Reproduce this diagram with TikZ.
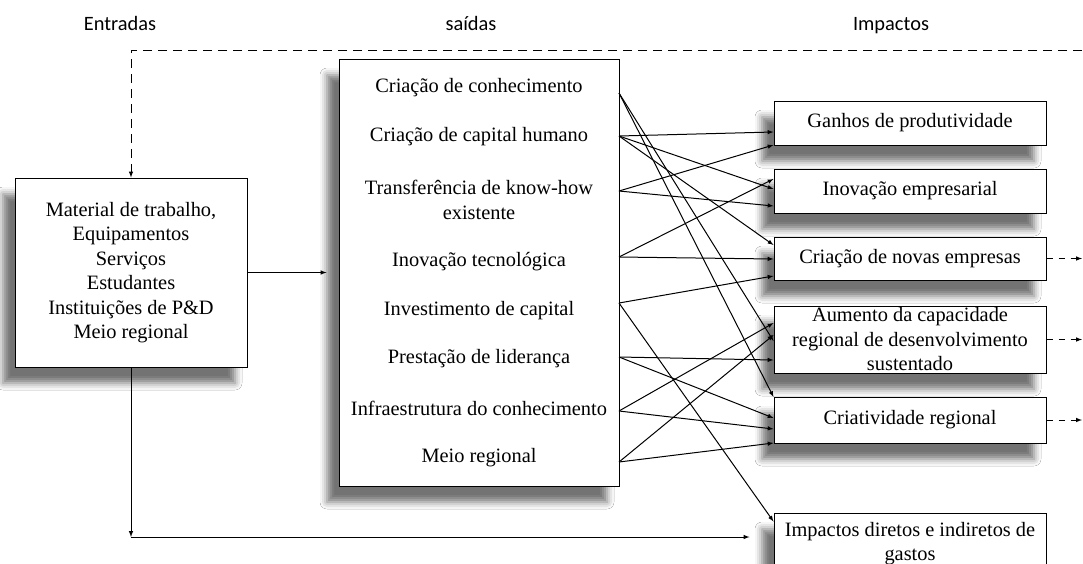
\documentclass[tikz,border=0pt]{standalone}
\usepackage{fontspec}
\setmainfont{Liberation Serif}
\newfontfamily\headfont{Carlito}
\usetikzlibrary{arrows}
\usetikzlibrary{positioning}
\usetikzlibrary{shadows.blur}

\begin{document}
\begin{tikzpicture}[-latex, x=1pt, y=-1pt, node distance=23pt, line width=1pt,
    box/.style={draw, fill=white, -, align=center, inner sep=0pt,
      font=\fontsize{20.4}{24.5}\selectfont,
      blur shadow={shadow xshift=-12pt, shadow yshift=-16pt,
      shadow blur radius=7pt, shadow opacity=55}},
    impact/.style={box, minimum width=272pt, minimum height=44pt},
    item/.style={font=\fontsize{20.4}{24.5}\selectfont, align=center, inner sep=0pt},
    head/.style={font=\headfont\fontsize{20.4}{24.5}\selectfont, anchor=base},
    feedback/.style={dash pattern=on 9pt off 6pt},
    exitline/.style={dash pattern=on 6pt off 6pt}]

    \path[use as bounding box, fill=white] (0,0) rectangle (1083,563);

    \node[head] (hin) at (120,30) {Entradas};
    \node[head] (hout) at (471,30) {saídas};
    \node[head] (himp) at (891,30) {Impactos};

    \node[box, minimum width=232pt, minimum height=189pt] (inp) at (131,272.5)
      {Material de trabalho,\\Equipamentos\\Serviços\\Estudantes\\Instituições de P\&D\\Meio regional};
    \node[box, minimum width=280pt, minimum height=427pt] (mid) at (479,272.5) {};

    \node[item] (o1) at (479,88) {Criação de conhecimento};
    \node[item] (o2) at (479,137) {Criação de capital humano};
    \node[item] (o3) at (479,200) {Transferência de know-how\\existente};
    \node[item] (o4) at (479,262) {Inovação tecnológica};
    \node[item] (o5) at (479,311) {Investimento de capital};
    \node[item] (o6) at (479,359) {Prestação de liderança};
    \node[item] (o7) at (479,408) {Infraestrutura do conhecimento};
    \node[item] (o8) at (479,458) {Meio regional};

    \node[impact] (ganhos) at (910,123) {Ganhos de produtividade};
    \node[impact] (inov) [below=of ganhos] {Inovação empresarial};
    \node[impact, minimum height=43pt] (novas) [below=of inov] {Criação de novas empresas};
    \node[impact, minimum height=67pt] (aumento) [below=25pt of novas]
      {Aumento da capacidade\\regional de desenvolvimento\\sustentado};
    \node[impact, minimum height=46pt] (criat) [below=of aumento] {Criatividade regional};
    \node[impact, inner ysep=9pt] (impac) [below=69pt of criat]
      {Impactos diretos e indiretos de\\gastos\\~};

    \coordinate (rim) at (1082,50);
    \coordinate (low) at (131,537);
    \coordinate (s1) at (619,93);
    \coordinate (s2) at (619,136);
    \coordinate (s3) at (619,191);
    \coordinate (s4) at (619,257);
    \coordinate (s5) at (619,303);
    \coordinate (s6) at (619,357);
    \coordinate (s7) at (619,411);
    \coordinate (s8) at (619,462);

    \draw[feedback] (rim) -| (inp.north);
    \draw[shorten >=12pt] (inp.east) -- (mid.west);
    \draw (inp.south) -- (low);
    \draw[shorten >=24pt] (low) -- (low -| impac.west);

    \draw[exitline] (novas.east) -- (novas.east -| rim);
    \draw[exitline] (aumento.east) -- (aumento.east -| rim);
    \draw[exitline] (criat.east) -- (criat.east -| rim);

    \path (s1) edge ([yshift=-1.5pt]aumento.west) edge ([yshift=23pt]criat.west);
    \path (s2) edge ([yshift=-9pt]ganhos.west) edge ([yshift=2pt]inov.west)
      edge ([yshift=13.5pt]novas.west);
    \path (s3) edge ([yshift=-22pt]ganhos.west) edge ([yshift=-15pt]inov.west);
    \path (s4) edge ([yshift=12pt]inov.west) edge ([yshift=-0.5pt]novas.west);
    \path (s5) edge ([yshift=-17.5pt]novas.west) edge ([yshift=-9pt]impac.north west);
    \path (s6) edge ([yshift=-20.5pt]aumento.west) edge ([yshift=2pt]criat.west);
    \path (s7) edge ([yshift=16.5pt]aumento.west) edge ([yshift=-9pt]criat.west);
    \path (s8) edge ([yshift=4.5pt]aumento.west) edge ([yshift=-23pt]criat.west);
\end{tikzpicture}
\end{document}
